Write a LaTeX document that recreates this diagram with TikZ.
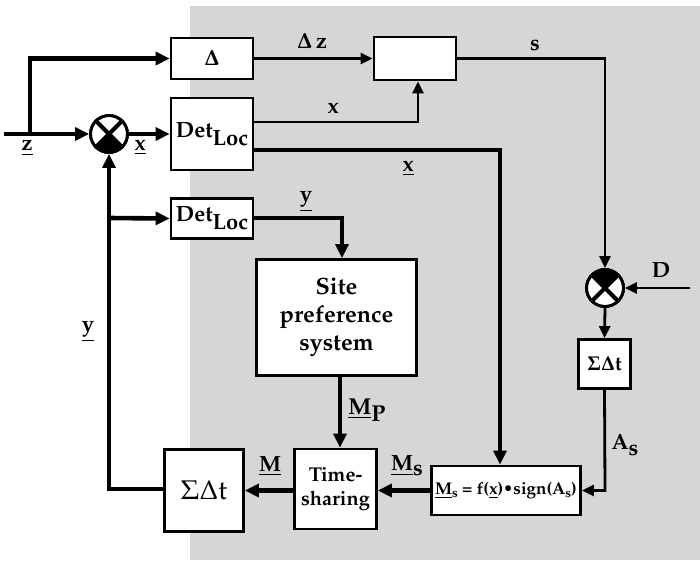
\documentclass[tikz,border=0pt]{standalone}
\usepackage[T1]{fontenc}
\usepackage{mathpazo}
\usetikzlibrary{arrows.meta,calc}
\tikzset{
  blk/.style={draw, line width=2.8pt, fill=white, inner sep=1pt, font=\fontsize{22}{25}\selectfont\bfseries},
  lab/.style={font=\fontsize{22}{24}\selectfont\bfseries\boldmath, inner sep=0pt},
  thk/.style={line width=4.6pt, -{Triangle[length=14pt,width=13pt]}},
  thn/.style={line width=2.8pt, -{Triangle[length=12pt,width=11pt]}},
  junc/.style={circle, draw, line width=2.8pt, minimum size=37pt, fill=white, inner sep=0pt},
}
\begin{document}
\begin{tikzpicture}[x=1pt,y=1pt]
\useasboundingbox (0,0) rectangle (700,-563);
\fill[black!16] (190,-6) rectangle (700,-560);

% blocks
\node[blk, minimum width=82, minimum height=41] (delta) at (212,-58.5) {$\mathbf{\Delta}$};
\node[blk, minimum width=82, minimum height=72] (det1) at (212,-134) {Det\raisebox{-8pt}{Loc}};
\node[blk, minimum width=82, minimum height=43] (b2) at (415,-58.5) {};
\node[blk, minimum width=82, minimum height=40] (det2) at (212,-218.5) {Det\raisebox{-8pt}{Loc}};
\node[blk, minimum width=160, minimum height=116, align=center, font=\fontsize{23.5}{28}\selectfont\bfseries] (site) at (336.5,-317.5) {Site\\preference\\system};
\node[blk, minimum width=82, minimum height=80, align=center, font=\fontsize{20}{24}\selectfont\bfseries] (time) at (335.5,-489) {Time-\\sharing};
\node[blk, minimum width=149, minimum height=49, inner sep=1pt, font=\fontsize{17}{20}\selectfont\bfseries] (ms) at (506,-490.5) {\underline{M}\raisebox{-3pt}{\fontsize{13}{14}\selectfont s} = f(\underline{x})\textbullet sign(A\raisebox{-3pt}{\fontsize{13}{14}\selectfont s})};
\node[blk, minimum width=79, minimum height=82, font=\fontsize{27}{31}\selectfont] (sum1) at (204,-490.5) {$\Sigma\Delta$t};
\node[blk, minimum width=52, minimum height=49, font=\fontsize{20}{22}\selectfont\bfseries\boldmath] (sum2) at (604.5,-364) {$\Sigma\Delta$t};

% junctions
\node[junc] (c1) at (109,-134) {};
\fill (c1.center) -- ++(-45:18.5) arc[start angle=-45,end angle=-135,radius=18.5] -- cycle;
\draw[line width=4pt] (c1.45) -- (c1.-135) (c1.135) -- (c1.-45);
\draw[line width=2.8pt] (c1) circle[radius=18.5];
\node[junc] (c2) at (605,-288) {};
\fill (c2.center) -- ++(45:18.5) arc[start angle=45,end angle=135,radius=18.5] -- cycle;
\draw[line width=4pt] (c2.45) -- (c2.-135) (c2.135) -- (c2.-45);
\draw[line width=2.8pt] (c2) circle[radius=18.5];

% coordinates
\coordinate (zin) at (4,-134);
\coordinate (zb) at (30,-134);
\coordinate (zt) at (30,-58.5);
\coordinate (x1) at (418,-122);
\coordinate (xr) at (500,-150);
\coordinate (sr) at (605,-58.5);
\coordinate (din) at (690,-288);
\coordinate (ar) at (605,-490.5);
\coordinate (mp) at (340,0);
\coordinate (yc) at (342,-218);
\coordinate (fb) at (109,-489);
\coordinate (fy) at (109,-218);

% connectors
\draw[thk] (zin) -- (c1.west);
\draw[thk] (zb) -- (zt) -- (delta.west);
\draw[thk] (c1.east) -- (det1.west);
\draw[thn] (delta.east) -- (b2.west);
\draw[thn] ([yshift=12]det1.east) -- (x1) -- (b2.south -| x1);
\draw[thk] ([yshift=-16]det1.east) -- (xr) -- (ms.north -| xr);
\draw[thn] (b2.east) -- (sr) -- (c2.north);
\draw[thn] (din) -- (c2.east);
\draw[thn] (c2.south) -- (sum2.north);
\draw[thn] (sum2.south) -- (ar) -- (ms.east);
\draw[thk] (ms.west) -- (time.east |- ms.west);
\draw[thk] (site.south -| mp) -- (time.north -| mp);
\draw[thk] (det2.east |- yc) -- (yc) -- (site.north -| yc);
\draw[thk] (time.west |- sum1.east) -- (sum1.east);
\draw[thk] (sum1.west |- fb) -- (fb) -- (c1.south);
\draw[thk] (fy) -- (det2.west);

% labels
\node[lab] at (27,-148) {\underline{z}};
\node[lab] at (140,-147) {\underline{x}};
\node[lab] at (312,-41) {$\Delta$\,z};
\node[lab] at (333,-108) {x};
\node[lab] at (408,-168) {\underline{x}};
\node[lab] at (535,-45) {s};
\node[lab] at (661,-270) {D};
\node[lab] at (306,-202) {\underline{y}};
\node[lab] at (88,-332) {\underline{y}};
\node[lab] at (625,-445) {A\raisebox{-6pt}{s}};
\node[lab] at (270,-466) {\underline{M}};
\node[lab, font=\fontsize{23}{25}\selectfont\bfseries] at (367,-410) {\underline{M}\raisebox{-7pt}{P}};
\node[lab] at (407,-466) {\underline{M}\raisebox{-5pt}{s}};
\end{tikzpicture}
\end{document}
